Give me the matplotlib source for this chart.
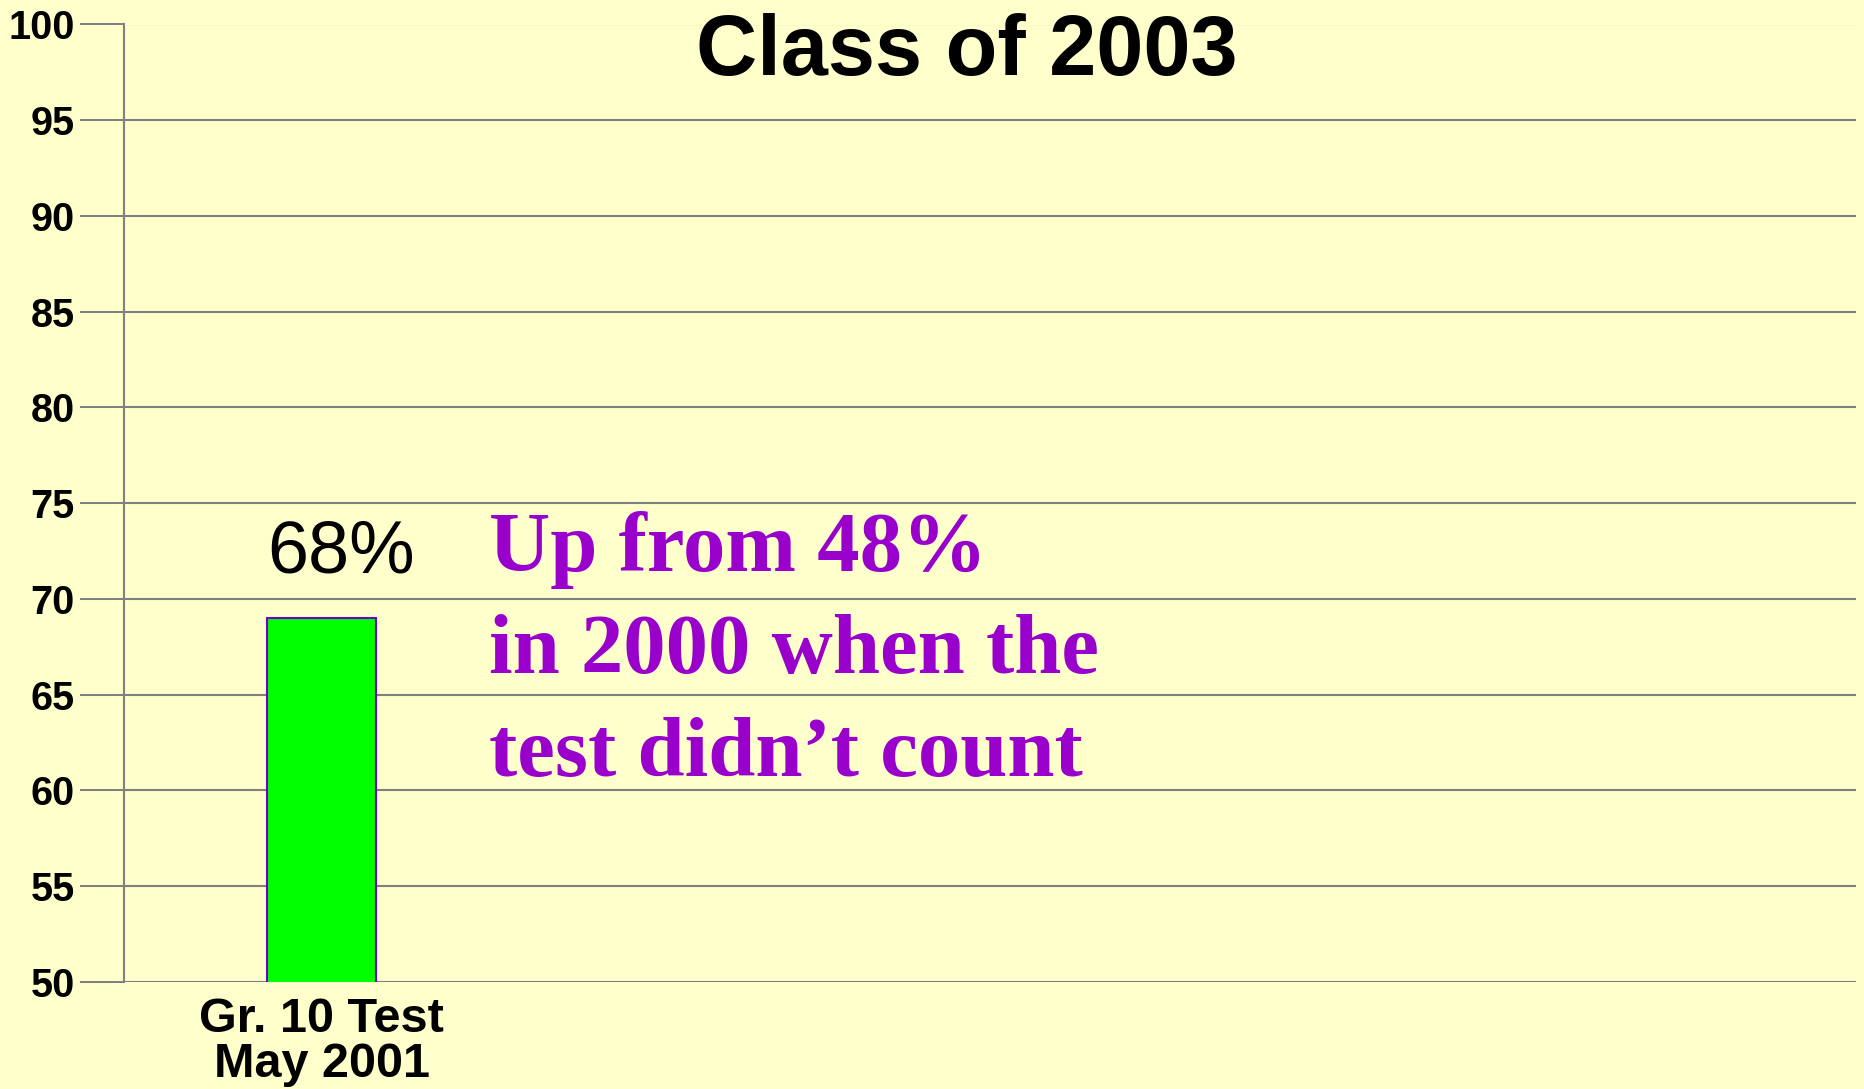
import matplotlib
matplotlib.use("Agg")
import matplotlib.pyplot as plt
import matplotlib.transforms as mtransforms

# data
categories = ["Gr. 10 Test\nMay 2001"]
values = [69]
bar_labels = ["68%"]
title = "Class of 2003"
note_lines = ["Up from 48%", "in 2000 when the", "test didn\u2019t count"]
yticks = list(range(50, 101, 5))

bg = "#FFFFCC"
grid_col = "#808080"

fig = plt.figure(figsize=(18.65, 10.89), dpi=100, facecolor=bg)
ax = fig.add_axes([124 / 1865, 107 / 1089, 1732 / 1865, 957.5 / 1089])
ax.set_facecolor(bg)

x = list(range(len(categories)))
ax.bar(x, values, width=0.6, color="#00FF00", edgecolor="#7000CC",
       linewidth=1.5, zorder=3)

ax.set_ylim(50, 100)
ax.set_xlim(-1.093, 8.49)
ax.set_yticks(yticks)
ax.set_yticklabels([str(t) for t in yticks], fontsize=28.5, fontweight="bold",
                   family="Liberation Sans")
ax.set_xticks(x)
ax.set_xticklabels(categories, fontsize=35, fontweight="bold",
                   family="Liberation Sans")
shift = mtransforms.ScaledTranslation(-0.05, 0, fig.dpi_scale_trans)
for t in ax.get_xticklabels():
    t.set_linespacing(0.98)
    t.set_transform(t.get_transform() + shift)

ax.grid(axis="y", color=grid_col, linewidth=1.5, zorder=0)
ax.tick_params(axis="y", length=31.7, width=1.44, color=grid_col, pad=3.6)
ax.tick_params(axis="x", length=0, pad=11)
for s in ["top", "right", "bottom"]:
    ax.spines[s].set_visible(False)
ax.spines["left"].set_color(grid_col)
ax.spines["left"].set_linewidth(1.5)

# value label above bar
for xi, v, lab in zip(x, values, bar_labels):
    ax.text(xi + 0.106, v + 2.36, lab, ha="center", va="baseline",
            fontsize=53, family="Liberation Sans", color="black")

# title
fig.text(967 / 1865, 1 - 75 / 1089, title, ha="center", va="baseline",
         fontsize=61, fontweight="bold", family="Liberation Sans")

# purple note
baselines = [571, 673, 776]
for line, b in zip(note_lines, baselines):
    fig.text(489 / 1865, 1 - b / 1089, line, ha="left", va="baseline",
             fontsize=61, fontweight="bold", family="Liberation Serif",
             color="#9900CC")

fig.savefig("out.png", dpi=100, facecolor=bg)
